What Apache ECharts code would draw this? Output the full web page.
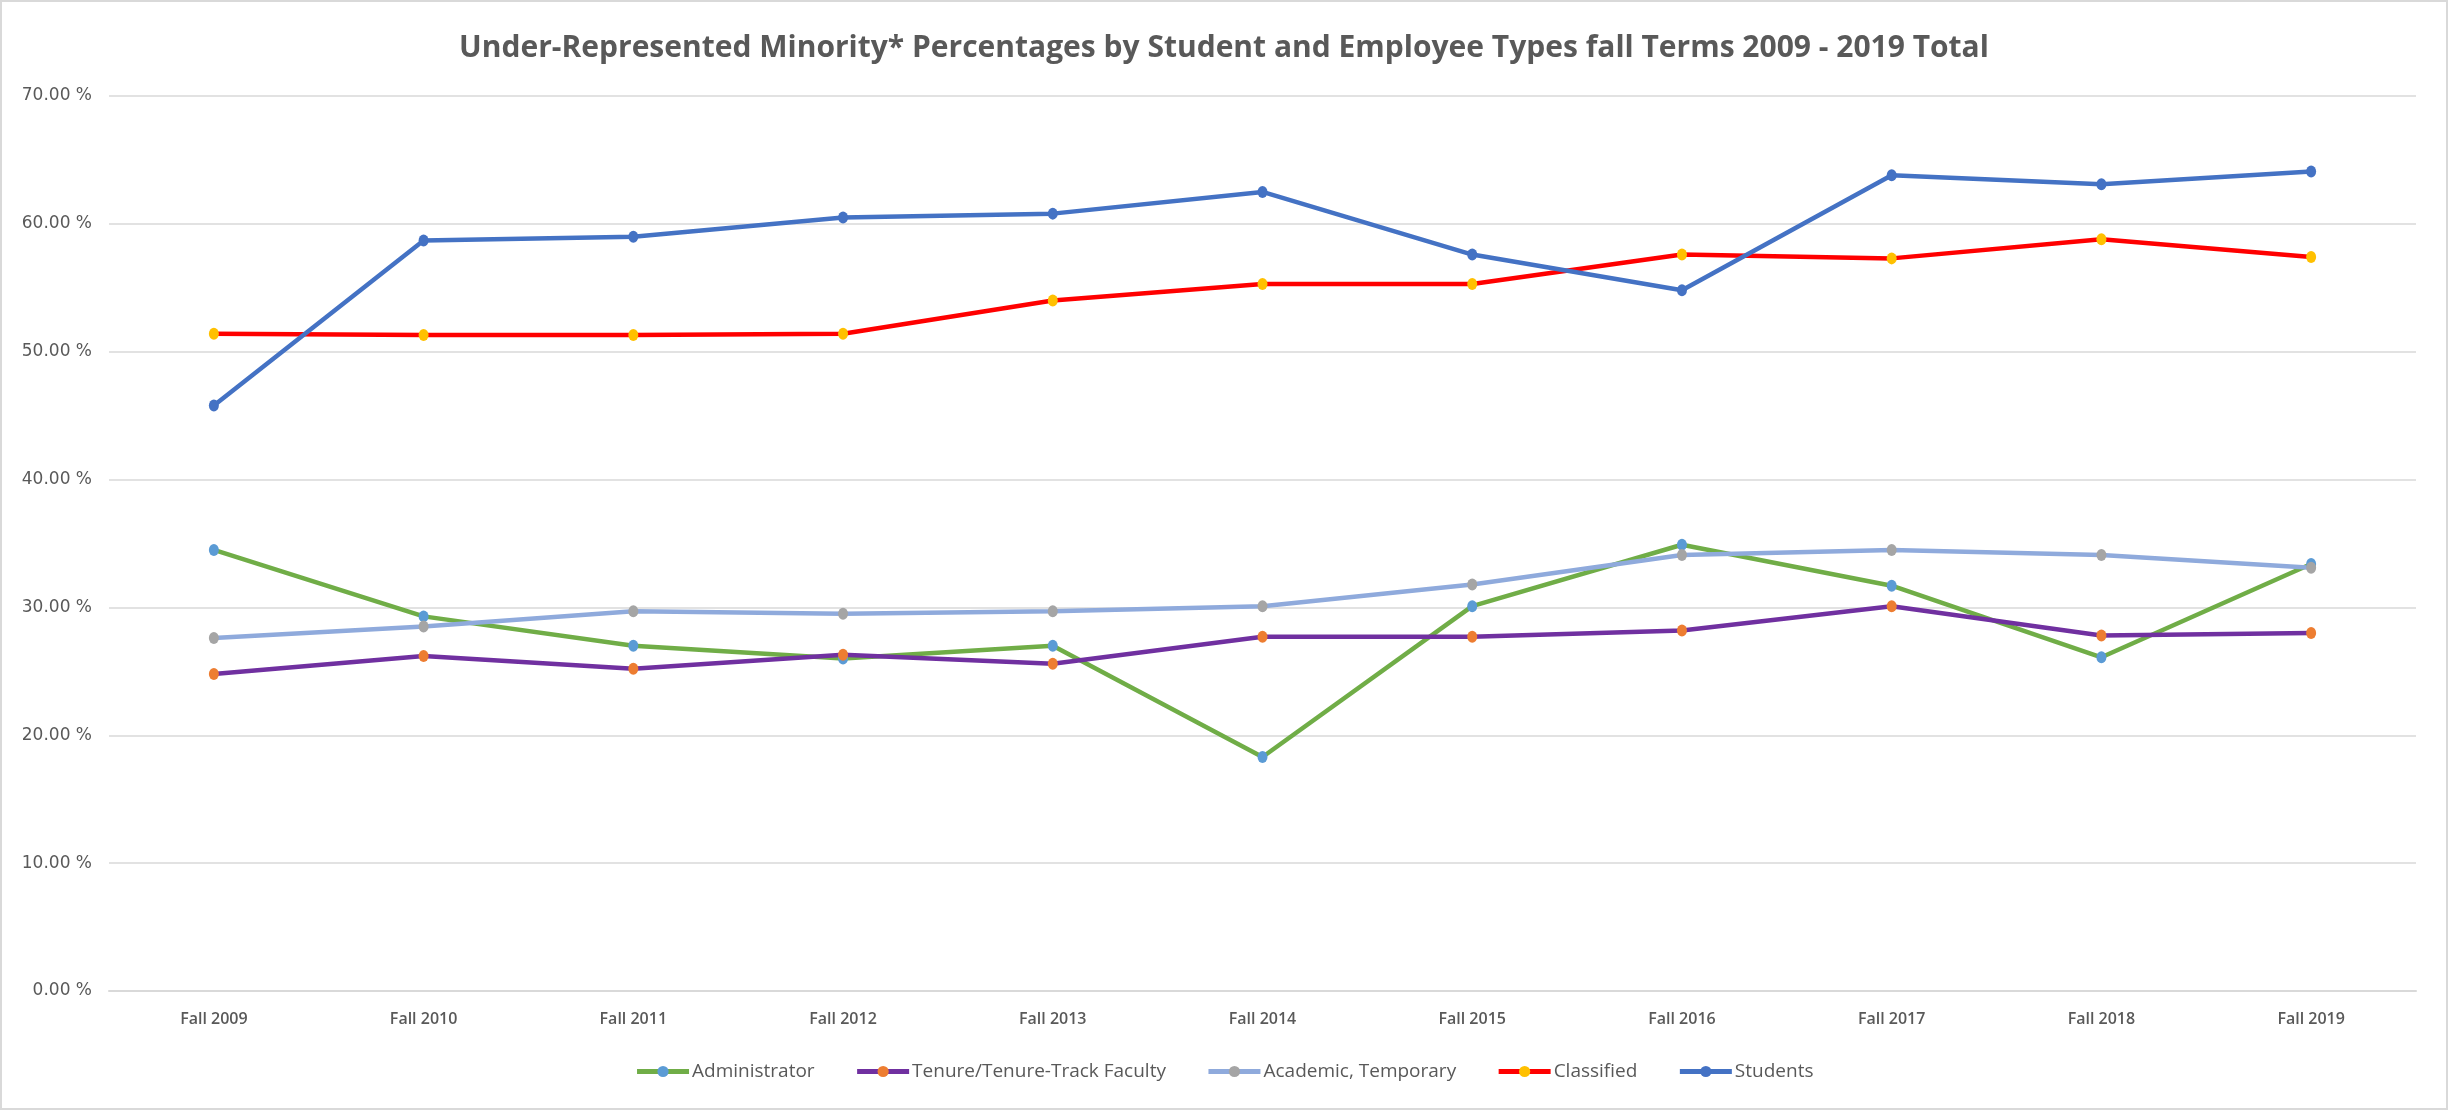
<!DOCTYPE html>
<html>
<head>
<meta charset="utf-8">
<script src="https://cdn.jsdelivr.net/npm/echarts@6/dist/echarts.min.js"></script>
<style>
	html, body { margin: 0; padding: 0; background: #ffffff; }
	#main { width: 2444px; height: 1106px; border: 2px solid #d9d9d9; }
</style>
</head>
<body>
<div id="main"></div>
<script>
	// fall terms
	var terms = ['Fall 2009', 'Fall 2010', 'Fall 2011', 'Fall 2012', 'Fall 2013', 'Fall 2014',
		'Fall 2015', 'Fall 2016', 'Fall 2017', 'Fall 2018', 'Fall 2019'];

	// percentages
	var administrator = [34.5, 29.3, 27.0, 26.0, 27.0, 18.3, 30.1, 34.9, 31.7, 26.1, 33.4];
	var tenureTrack = [24.8, 26.2, 25.2, 26.3, 25.6, 27.7, 27.7, 28.2, 30.1, 27.8, 28.0];
	var academicTemp = [27.6, 28.5, 29.7, 29.5, 29.7, 30.1, 31.8, 34.1, 34.5, 34.1, 33.1];
	var classified = [51.4, 51.3, 51.3, 51.4, 54.0, 55.3, 55.3, 57.6, 57.3, 58.8, 57.4];
	var students = [45.8, 58.7, 59.0, 60.5, 60.8, 62.5, 57.6, 54.8, 63.8, 63.1, 64.1];

	var yTicks = [0, 10, 20, 30, 40, 50, 60, 70];

	function makeSeries(name, data, lineColor, markerColor) {
		return {
			name: name,
			type: 'line',
			data: data,
			symbol: 'circle',
			symbolSize: [10, 12],
			lineStyle: { color: lineColor, width: 4.5 },
			itemStyle: { color: markerColor },
			emphasis: { disabled: true }
		};
	}

	var myChart = echarts.init(document.getElementById('main'));
	myChart.setOption({
		animation: false,
		title: {
			text: 'Under-Represented Minority* Percentages by Student and Employee Types fall Terms 2009 - 2019 Total',
			left: 'center',
			top: 26,
			textStyle: {
				fontFamily: 'Open Sans',
				fontWeight: 'bold',
				fontSize: 30,
				color: '#595959'
			}
		},
		legend: {
			bottom: 22,
			left: 'center',
			itemWidth: 52,
			itemHeight: 14,
			itemGap: 40,
			lineStyle: { width: 5 },
			textStyle: { fontFamily: 'Open Sans', fontSize: 19, color: '#595959', padding: [0, 0, 0, -2] },
			data: ['Administrator', 'Tenure/Tenure-Track Faculty', 'Academic, Temporary', 'Classified', 'Students']
		},
		grid: {
			left: 107,
			right: 30,
			top: 94,
			bottom: 117
		},
		xAxis: {
			type: 'category',
			data: terms,
			boundaryGap: true,
			axisTick: { show: false },
			axisLine: { lineStyle: { color: '#d9d9d9', width: 2 } },
			axisLabel: {
				margin: 20,
				fontFamily: 'Open Sans',
				fontWeight: 600,
				fontSize: 16,
				color: '#595959'
			}
		},
		yAxis: {
			type: 'value',
			min: yTicks[0],
			max: yTicks[yTicks.length - 1],
			interval: 10,
			axisLine: { show: false },
			axisTick: { show: false },
			splitLine: { lineStyle: { color: '#d9d9d9', width: 1.5 } },
			axisLabel: {
				margin: 17,
				fontFamily: 'DejaVu Sans',
				fontSize: 17,
				color: '#595959',
				formatter: function(v) { return v.toFixed(2) + ' %'; }
			}
		},
		series: [
			makeSeries('Administrator', administrator, '#70ad47', '#5b9bd5'),
			makeSeries('Tenure/Tenure-Track Faculty', tenureTrack, '#7030a0', '#ed7d31'),
			makeSeries('Academic, Temporary', academicTemp, '#8faadc', '#a5a5a5'),
			makeSeries('Classified', classified, '#ff0000', '#ffc000'),
			makeSeries('Students', students, '#4472c4', '#4472c4')
		]
	});
</script>
</body>
</html>
